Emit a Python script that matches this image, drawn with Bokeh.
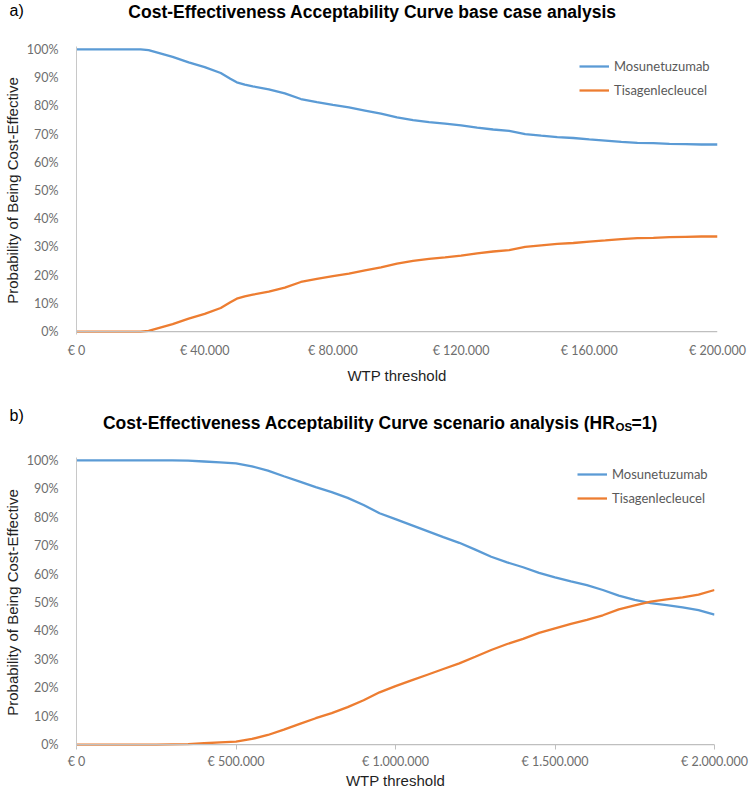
from bokeh.plotting import figure
from bokeh.models import Range1d, FixedTicker, Span, Legend, LegendItem
from bokeh.layouts import column
from bokeh.embed import file_html
from bokeh.resources import INLINE
from bokeh.core.properties import value

# ---------------- data ----------------
wtp_a = [0, 5000, 10000, 15000, 20000, 22500, 25000, 30000, 35000, 40000, 45000, 48000,
         50000, 52500, 55000, 60000, 65000, 70000, 75000, 80000, 85000, 90000, 95000,
         100000, 105000, 110000, 115000, 120000, 125000, 130000, 135000, 140000, 145000,
         150000, 155000, 160000, 165000, 170000, 175000, 180000, 185000, 190000, 195000, 200000]
mos_a = [100, 100, 100, 100, 100, 99.7, 98.9, 97.3, 95.4, 93.7, 91.6, 89.6,
         88.3, 87.5, 86.9, 85.8, 84.4, 82.4, 81.3, 80.3, 79.4, 78.3, 77.2,
         75.9, 74.9, 74.2, 73.7, 73.1, 72.3, 71.6, 71.1, 70.0, 69.4,
         68.9, 68.6, 68.1, 67.7, 67.2, 66.9, 66.8, 66.5, 66.4, 66.3, 66.3]
tis_a = [0, 0, 0, 0, 0, 0.3, 1.1, 2.7, 4.6, 6.3, 8.4, 10.4,
         11.7, 12.5, 13.1, 14.2, 15.6, 17.6, 18.7, 19.7, 20.6, 21.7, 22.8,
         24.1, 25.1, 25.8, 26.3, 26.9, 27.7, 28.4, 28.9, 30.0, 30.6,
         31.1, 31.4, 31.9, 32.3, 32.8, 33.1, 33.2, 33.5, 33.6, 33.7, 33.7]

wtp_b = [0, 50000, 100000, 150000, 200000, 250000, 300000, 350000, 400000, 450000, 500000,
         550000, 600000, 650000, 700000, 750000, 800000, 850000, 900000, 950000, 1000000,
         1050000, 1100000, 1150000, 1200000, 1250000, 1300000, 1350000, 1400000, 1450000,
         1500000, 1550000, 1600000, 1650000, 1700000, 1750000, 1800000, 1850000, 1900000,
         1950000, 2000000]
mos_b = [100, 100, 100, 100, 100, 100, 100, 99.9, 99.6, 99.3, 98.9,
         97.9, 96.4, 94.4, 92.5, 90.6, 88.8, 86.8, 84.3, 81.4, 79.3,
         77.2, 75.1, 73.0, 71.0, 68.6, 66.1, 64.1, 62.4, 60.4,
         58.8, 57.4, 56.1, 54.4, 52.4, 50.9, 49.8, 49.1, 48.3,
         47.3, 45.7]
tis_b = [0, 0, 0, 0, 0, 0, 0.1, 0.2, 0.5, 0.8, 1.1,
         2.0, 3.4, 5.3, 7.3, 9.3, 11.1, 13.2, 15.6, 18.4, 20.6,
         22.6, 24.6, 26.6, 28.6, 30.9, 33.3, 35.4, 37.2, 39.3,
         40.9, 42.5, 43.9, 45.5, 47.6, 49.0, 50.3, 51.1, 51.8,
         52.8, 54.4]

series_names = ["Mosunetuzumab", "Tisagenlecleucel"]
y_ticks = [0, 10, 20, 30, 40, 50, 60, 70, 80, 90, 100]
y_tick_labels = ["0%", "10%", "20%", "30%", "40%", "50%", "60%", "70%", "80%", "90%", "100%"]
x_ticks_a = [0, 40000, 80000, 120000, 160000, 200000]
x_labels_a = ["€ 0", "€ 40.000", "€ 80.000", "€ 120.000", "€ 160.000", "€ 200.000"]
x_ticks_b = [0, 500000, 1000000, 1500000, 2000000]
x_labels_b = ["€ 0", "€ 500.000", "€ 1.000.000", "€ 1.500.000", "€ 2.000.000"]

title_a = "Cost-Effectiveness Acceptability Curve base case analysis"
title_b_main = "Cost-Effectiveness Acceptability Curve scenario analysis (HR"
title_b_sub = "OS"
title_b_end = "=1)"
panel_tags = ["a)", "b)"]

BLUE = "#5B9BD5"
ORANGE = "#ED7D31"
TICK_COLOR = "#6E6E6E"
AXIS_GRAY = "#BFBFBF"
TITLE_FONT = "Liberation Sans"
TICK_FONT = "Lato"
W = 737


def no_align(f):
    if "frame_align" in f.properties():
        f.frame_align = False
    return f


def header(page_top, h, items):
    # header canvas mapped onto page pixel coordinates
    p = figure(output_backend="svg", toolbar_location=None, width=W, height=h,
               x_range=Range1d(8, 8 + W), y_range=Range1d(page_top + h, page_top),
               min_border=0, x_axis_location=None, y_axis_location=None)
    p.outline_line_color = None
    p.xgrid.visible = False
    p.ygrid.visible = False
    for (x, y, txt, size, bold, align) in items:
        p.text(x=[x], y=[y], text=[txt], text_font=value(TITLE_FONT),
               text_font_style="bold" if bold else "normal", text_font_size=size,
               text_align=align, text_baseline="middle", text_color="#000000")
    return no_align(p)


def make_panel(wtp, mos, tis, xmax, xticks, xlabels, frame_w, frame_h, top, bottom,
               tick_out, label_standoff, axis_standoff, legend_loc):
    p = figure(output_backend="svg", toolbar_location=None,
               frame_width=frame_w, frame_height=frame_h,
               min_border_left=64, min_border_right=W - 64 - frame_w,
               min_border_top=top, min_border_bottom=bottom,
               x_range=Range1d(0, xmax), y_range=Range1d(-1, 101))
    p.outline_line_color = None
    p.xgrid.visible = False
    p.ygrid.visible = False

    # y axis
    p.yaxis.ticker = FixedTicker(ticks=y_ticks)
    p.yaxis.major_label_overrides = {t: l for t, l in zip(y_ticks, y_tick_labels)}
    p.yaxis.axis_line_color = "#C8C8C8"
    p.yaxis.major_tick_line_color = None
    p.yaxis.minor_tick_line_color = None
    p.yaxis.major_label_standoff = 12
    p.yaxis.major_label_text_font = TICK_FONT
    p.yaxis.major_label_text_font_size = "12.5px"
    p.yaxis.major_label_text_color = TICK_COLOR
    p.yaxis.axis_label = "Probability of Being Cost-Effective"
    p.yaxis.axis_label_text_font = TITLE_FONT
    p.yaxis.axis_label_text_font_style = "normal"
    p.yaxis.axis_label_text_font_size = "15px"
    p.yaxis.axis_label_text_color = "#1F1F1F"
    p.yaxis.axis_label_standoff = 3

    # x axis
    p.xaxis.ticker = FixedTicker(ticks=xticks)
    p.xaxis.major_label_overrides = {t: l for t, l in zip(xticks, xlabels)}
    p.xaxis.axis_line_color = None
    p.xaxis.minor_tick_line_color = None
    if tick_out > 0:
        p.xaxis.major_tick_line_color = AXIS_GRAY
        p.xaxis.major_tick_in = 3
        p.xaxis.major_tick_out = tick_out
    else:
        p.xaxis.major_tick_line_color = None
        p.xaxis.major_tick_in = 0
        p.xaxis.major_tick_out = 0
    p.xaxis.major_label_standoff = label_standoff
    p.xaxis.major_label_text_font = TICK_FONT
    p.xaxis.major_label_text_font_size = "12.5px"
    p.xaxis.major_label_text_color = TICK_COLOR
    p.xaxis.axis_label = "WTP threshold"
    p.xaxis.axis_label_text_font = TITLE_FONT
    p.xaxis.axis_label_text_font_style = "normal"
    p.xaxis.axis_label_text_font_size = "15px"
    p.xaxis.axis_label_text_color = "#1F1F1F"
    p.xaxis.axis_label_standoff = axis_standoff

    p.add_layout(Span(location=0, dimension="width", line_color=AXIS_GRAY, line_width=1.3))

    r1 = p.line(wtp, mos, line_color=BLUE, line_width=2.3)
    r2 = p.line(wtp, tis, line_color=ORANGE, line_width=2.3)

    legend = Legend(items=[LegendItem(label=series_names[0], renderers=[r1]),
                           LegendItem(label=series_names[1], renderers=[r2])],
                    location=legend_loc, border_line_color=None,
                    background_fill_alpha=0, padding=0, margin=0, spacing=4,
                    glyph_width=30, glyph_height=20, label_height=20,
                    label_standoff=5, label_text_font=TICK_FONT,
                    label_text_font_size="13px", label_text_color="#595959")
    p.add_layout(legend)
    return no_align(p)


# Panel a (page y 8..47 header, 47..401 plot)
ha = header(8, 39, [(380, 19, title_a, "17.5px", True, "center"),
                    (17, 18, panel_tags[0], "16px", False, "left")])
pa = make_panel(wtp_a, mos_a, tis_a, 200000, x_ticks_a, x_labels_a, 641, 288,
                top=7, bottom=59, tick_out=0, label_standoff=8, axis_standoff=6,
                legend_loc=(503, 234))

# Panel b (page y 401..440 header, 440..794 plot)
hb = header(401, 39, [(623, 430, title_b_main, "17.5px", True, "right"),
                      (623, 434, title_b_sub, "11.5px", True, "left"),
                      (639, 430, title_b_end, "17.5px", True, "left"),
                      (17, 423, panel_tags[1], "16px", False, "left")])
pb = make_panel(wtp_b, mos_b, tis_b, 2000000, x_ticks_b, x_labels_b, 638, 290,
                top=25, bottom=39, tick_out=2, label_standoff=4, axis_standoff=0,
                legend_loc=(501, 239))

layout = column(column(ha), pa, column(hb), pb, spacing=0)
open("out.html", "w").write(file_html(layout, INLINE))
